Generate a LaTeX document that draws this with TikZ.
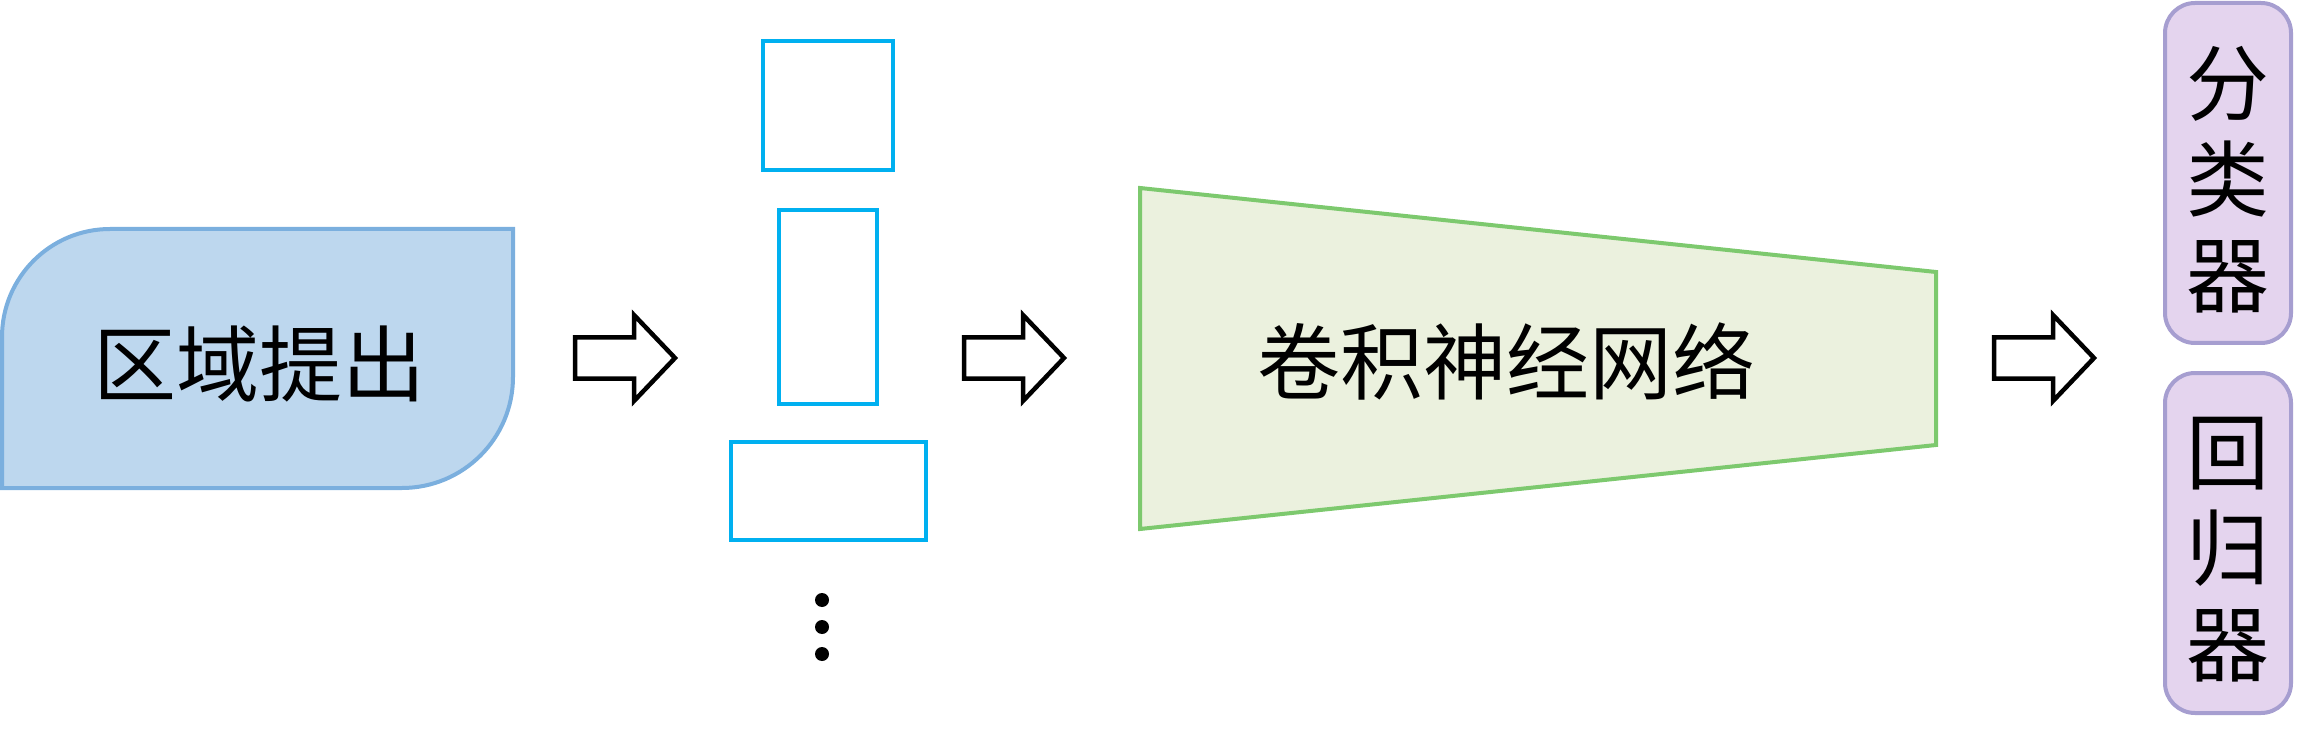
\documentclass[tikz,border=0pt]{standalone}
\usepackage{fontspec}
\setmainfont{Noto Sans CJK SC}
\definecolor{bluefill}{HTML}{BDD7EE}
\definecolor{blueline}{HTML}{7BAFDE}
\definecolor{cyanline}{HTML}{00B0F0}
\definecolor{greenfill}{HTML}{EBF1DE}
\definecolor{greenline}{HTML}{7DC96E}
\definecolor{purplefill}{HTML}{E4D4EE}
\definecolor{purpleline}{HTML}{A69ED0}
\tikzset{
  bigtext/.style={font=\fontsize{83}{96}\selectfont, inner sep=0pt, align=center},
  blockarrow/.style={draw=black, fill=white, line width=4.5pt, line join=miter},
  regionbox/.style={draw=cyanline, line width=4pt, fill=white, inner sep=0pt},
  outbox/.style={draw=purpleline, fill=purplefill, line width=4pt, rounded corners=30pt,
    minimum width=126pt, minimum height=340pt, inner sep=0pt},
  dot/.style={circle, fill=black, inner sep=0pt, minimum size=14pt}
}
\newcommand{\blockarrowat}[2]{%
  \coordinate (#1) at (#2,358);
  \draw[blockarrow] ([shift={(-50,-20.5)}]#1) -- ([shift={(9,-20.5)}]#1)
    -- ([shift={(9,-43)}]#1) -- ([shift={(50,0)}]#1) -- ([shift={(9,43)}]#1)
    -- ([shift={(9,20.5)}]#1) -- ([shift={(-50,20.5)}]#1) -- cycle;}
\begin{document}
\begin{tikzpicture}[x=1pt,y=-1pt]
\useasboundingbox (0,0) rectangle (2319,743);
% region proposal shape
\draw[draw=blueline, fill=bluefill, line width=4pt]
  (2,488) -- (2,337) arc[start angle=180, end angle=270, radius=108]
  -- (513,229) -- (513,377) arc[start angle=0, end angle=90, radius=111] -- cycle;
\node[bigtext] (rp) at (259,364) {区域提出};
% arrows
\blockarrowat{a1}{625}
\blockarrowat{a2}{1014}
\blockarrowat{a3}{2044}
% region boxes
\node[regionbox, minimum width=130pt, minimum height=129pt] (r1) at (828,105.5) {};
\node[regionbox, minimum width=98pt, minimum height=194pt] (r2) at (828,307) {};
\node[regionbox, minimum width=195pt, minimum height=98pt] (r3) at (828.5,491) {};
\node[dot] (d1) at (822,600) {};
\node[dot] (d2) at (822,627) {};
\node[dot] (d3) at (822,654) {};
% CNN trapezoid
\draw[draw=greenline, fill=greenfill, line width=4pt]
  (1140,188) -- (1936,272) -- (1936,445) -- (1140,529) -- cycle;
\node[bigtext] (cnn) at (1506,361) {卷积神经网络};
% outputs
\node[outbox] (cls) at (2228,173) {};
\node[bigtext] (clst) at (2228,180) {分\\类\\器};
\node[outbox] (reg) at (2228,543) {};
\node[bigtext] (regt) at (2228,550) {回\\归\\器};
\end{tikzpicture}
\end{document}
